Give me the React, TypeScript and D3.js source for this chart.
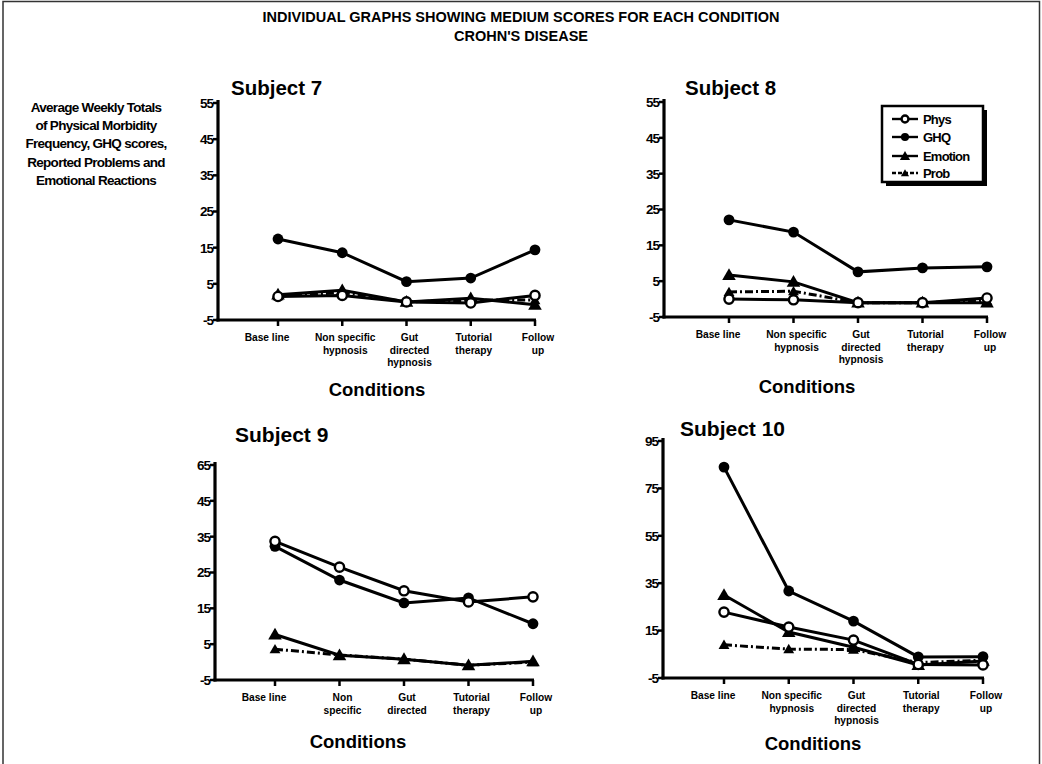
import React from 'react';
import * as d3 from 'd3';

// categories along the x axis (two label sets, subject 9 uses the short one)
const conditionLabels = [
  ['Base line'],
  ['Non specific', 'hypnosis'],
  ['Gut', 'directed', 'hypnosis'],
  ['Tutorial', 'therapy'],
  ['Follow', 'up'],
];
const conditionLabelsShort = [
  ['Base line'],
  ['Non', 'specific'],
  ['Gut', 'directed'],
  ['Tutorial', 'therapy'],
  ['Follow', 'up'],
];

const seriesNames = ['Phys', 'GHQ', 'Emotion', 'Prob'];

// y ticks
const ticks55 = [-5, 5, 15, 25, 35, 45, 55];
const tickLabels55 = ['-5', '5', '15', '25', '35', '45', '55'];
const tickLabels9 = ['-5', '5', '15', '25', '35', '45', '65'];
const ticks95 = [-5, 15, 35, 55, 75, 95];
const tickLabels95 = ['-5', '15', '35', '55', '75', '95'];

// Subject 7
const s7Phys = [1.5, 1.8, 0, -0.3, 1.8];
const s7Ghq = [17.4, 13.6, 5.6, 6.6, 14.4];
const s7Emotion = [2, 3.2, 0, 1, -0.8];
const s7Prob = [1.6, 2.6, 0, 0.5, 0.5];

// Subject 8
const s8Phys = [0, -0.2, -1, -1, 0.3];
const s8Ghq = [22.1, 18.7, 7.6, 8.7, 9];
const s8Emotion = [6.7, 4.8, -1, -1, -1];
const s8Prob = [2, 2.2, -1, -1, -0.5];

// Subject 9
const s9Phys = [33.7, 26.5, 19.9, 16.8, 18.2];
const s9Ghq = [32.3, 22.9, 16.5, 17.9, 10.7];
const s9Emotion = [7.7, 1.9, 0.8, -0.9, 0.2];
const s9Prob = [3.6, 2, 0.8, -0.9, 0];

// Subject 10
const s10Phys = [22.8, 16.5, 11, 0.7, 0.5];
const s10Ghq = [84, 31.7, 19, 3.9, 4];
const s10Emotion = [30, 14.4, 8, 0.5, 2.2];
const s10Prob = [9, 7.2, 7, 1.5, 2.5];

const FONT = '"Liberation Sans", Arial, sans-serif';
const NARROW = '"Liberation Sans Narrow", "Liberation Sans", Arial, sans-serif';

const panels = [
  {
    title: 'Subject  7', tx: 231, ty: 95, tsize: 20.5,
    axisX: 218, yTop: 103, yBottom: 320, x0: 278, x1: 535,
    domain: [-5, 55], ticks: ticks55, tickLabels: tickLabels55,
    labels: conditionLabels, condX: 377, condY: 396,
    series: [s7Phys, s7Ghq, s7Emotion, s7Prob], legend: false,
  },
  {
    title: 'Subject  8', tx: 685, ty: 95, tsize: 20.5,
    axisX: 664, yTop: 102, yBottom: 317, x0: 729, x1: 987,
    domain: [-5, 55], ticks: ticks55, tickLabels: tickLabels55,
    labels: conditionLabels, condX: 807, condY: 393,
    series: [s8Phys, s8Ghq, s8Emotion, s8Prob], legend: true,
  },
  {
    title: 'Subject 9', tx: 235, ty: 442, tsize: 21,
    axisX: 215, yTop: 465, yBottom: 680, x0: 275, x1: 533,
    domain: [-5, 55], ticks: ticks55, tickLabels: tickLabels9,
    labels: conditionLabelsShort, condX: 358, condY: 748,
    series: [s9Phys, s9Ghq, s9Emotion, s9Prob], legend: false,
  },
  {
    title: 'Subject 10', tx: 680, ty: 436, tsize: 21,
    axisX: 663, yTop: 441, yBottom: 678, x0: 724, x1: 983,
    domain: [-5, 95], ticks: ticks95, tickLabels: tickLabels95,
    labels: conditionLabels, condX: 813, condY: 750,
    series: [s10Phys, s10Ghq, s10Emotion, s10Prob], legend: false,
  },
];

const triangle = d3.symbol(d3.symbolTriangle, 80)();

const Marker = ({ kind, x, y, k = 1 }: { kind: string; x: number; y: number; k?: number }) => {
  if (kind === 'Phys')
    return <circle cx={x} cy={y} r={4.6 * k} fill="#fff" stroke="#000" strokeWidth={2.4} />;
  if (kind === 'GHQ') return <circle cx={x} cy={y} r={5.4 * k} fill="#000" />;
  const s = (kind === 'Prob' ? 0.8 : 1) * k;
  return <path d={triangle} transform={`translate(${x},${y + 1}) scale(${s})`} fill="#000" />;
};

const Panel = ({ p }: { p: any }) => {
  const x = d3.scalePoint<number>().domain(d3.range(5)).range([p.x0, p.x1]);
  const y = d3.scaleLinear().domain(p.domain).range([p.yBottom, p.yTop]);
  const line = d3
    .line<number>()
    .x((_, i) => x(i) as number)
    .y((d) => y(d));
  const order = [3, 2, 1, 0];

  return (
    <g>
      <text x={p.tx} y={p.ty} fontFamily={FONT} fontWeight="bold" fontSize={p.tsize}>
        {p.title}
      </text>

      {/* axes */}
      <line x1={p.axisX} x2={p.axisX} y1={p.yTop - 3} y2={p.yBottom + 1.5} stroke="#000" strokeWidth={3.2} />
      <line x1={p.axisX - 1.5} x2={p.x1 + 1} y1={p.yBottom} y2={p.yBottom} stroke="#000" strokeWidth={3.2} />
      {p.ticks.map((t: number, i: number) => (
        <g key={t}>
          <line x1={p.axisX - 5} x2={p.axisX} y1={y(t)} y2={y(t)} stroke="#000" strokeWidth={2.5} />
          <text
            x={p.axisX - 5}
            y={y(t)}
            dy="0.36em"
            textAnchor="end"
            fontFamily={NARROW}
            fontWeight="bold"
            fontSize={13.5}
            letterSpacing={-1}
          >
            {p.tickLabels[i]}
          </text>
        </g>
      ))}
      {p.labels.map((lab: string[], i: number) => (
        <g key={i}>
          <line x1={x(i)} x2={x(i)} y1={p.yBottom} y2={p.yBottom + 6} stroke="#000" strokeWidth={2.5} />
          {lab.map((s, j) => (
            <text
              key={j}
              x={(x(i) as number) + (i === 0 ? -11 : 3)}
              y={p.yBottom + 21 + j * 12.6}
              textAnchor="middle"
              fontFamily={FONT}
              fontWeight="bold"
              fontSize={10.2}
            >
              {s}
            </text>
          ))}
        </g>
      ))}
      <text x={p.condX} y={p.condY} textAnchor="middle" fontFamily={FONT} fontWeight="bold" fontSize={18.5}>
        Conditions
      </text>

      {/* series */}
      {order.map((k) => (
        <g key={k}>
          <path
            d={line(p.series[k]) as string}
            fill="none"
            stroke="#000"
            strokeWidth={3}
            strokeDasharray={k === 3 ? '8,3,2,3' : undefined}
          />
          {p.series[k].map((v: number, i: number) => (
            <Marker key={i} kind={seriesNames[k]} x={x(i) as number} y={y(v)} />
          ))}
        </g>
      ))}

      {p.legend && <Legend />}
    </g>
  );
};

const Legend = () => {
  const lx = 882;
  const ly = 106;
  const rows = [119, 137, 156, 173];
  return (
    <g>
      <rect x={lx + 4} y={ly + 4} width={101} height={76} fill="#000" />
      <rect x={lx} y={ly} width={101} height={76} fill="#fff" stroke="#000" strokeWidth={2.5} />
      {seriesNames.map((n, i) => (
        <g key={n}>
          <line
            x1={lx + 10}
            x2={lx + 36}
            y1={rows[i]}
            y2={rows[i]}
            stroke="#000"
            strokeWidth={2.4}
            strokeDasharray={n === 'Prob' ? '4,2' : undefined}
          />
          <Marker kind={n} x={lx + 23} y={rows[i]} k={0.75} />
          <text
            x={lx + 41}
            y={rows[i]}
            dy="0.36em"
            fontFamily={NARROW}
            fontWeight="bold"
            fontSize={13}
            letterSpacing={-0.8}
          >
            {n}
          </text>
        </g>
      ))}
    </g>
  );
};

const yTitle = [
  'Average Weekly Totals',
  'of Physical Morbidity',
  'Frequency, GHQ scores,',
  'Reported Problems and',
  'Emotional Reactions',
];

export default function App() {
  return (
    <svg width={1042} height={764} style={{ position: 'absolute', left: 0, top: 0, background: '#fff' }}>
      <rect x={0} y={0} width={1042} height={764} fill="#fff" />
      <path d="M3,770 V1.5 H1039.5 V770" fill="none" stroke="#333" strokeWidth={1.5} />
      <text x={521} y={22} textAnchor="middle" fontFamily={FONT} fontWeight="bold" fontSize={14.5}>
        INDIVIDUAL GRAPHS SHOWING MEDIUM SCORES FOR EACH CONDITION
      </text>
      <text x={521} y={41} textAnchor="middle" fontFamily={FONT} fontWeight="bold" fontSize={14.5}>
        CROHN'S DISEASE
      </text>
      {yTitle.map((s, i) => (
        <text
          key={i}
          x={96}
          y={112 + i * 18.2}
          textAnchor="middle"
          fontFamily={NARROW}
          fontWeight="bold"
          fontSize={13.5}
          letterSpacing={-0.7}
        >
          {s}
        </text>
      ))}
      {panels.map((p, i) => (
        <Panel key={i} p={p} />
      ))}
    </svg>
  );
}
